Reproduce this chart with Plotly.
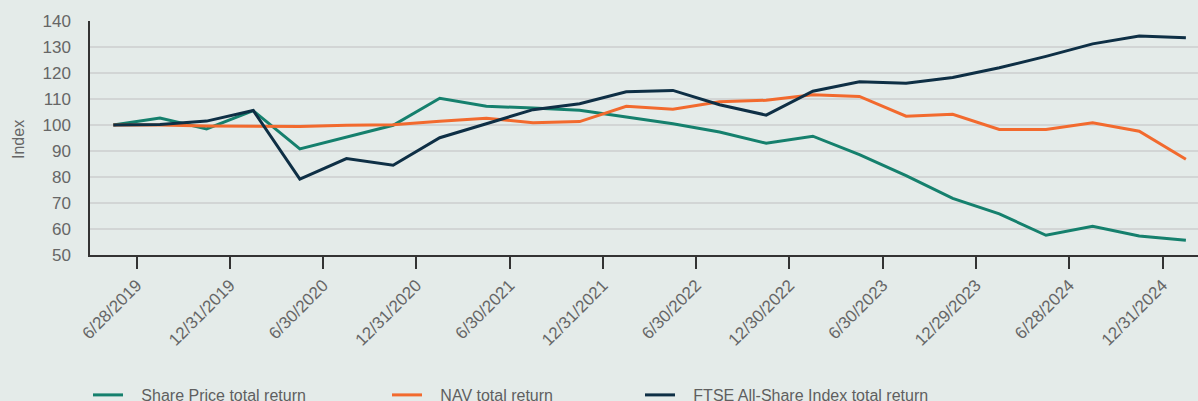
import plotly.graph_objects as go

quarters = ["3/29/2019", "6/28/2019", "9/30/2019", "12/31/2019", "3/31/2020", "6/30/2020",
            "9/30/2020", "12/31/2020", "3/31/2021", "6/30/2021", "9/30/2021", "12/31/2021",
            "3/31/2022", "6/30/2022", "9/30/2022", "12/30/2022", "3/31/2023", "6/30/2023",
            "9/29/2023", "12/29/2023", "3/28/2024", "6/28/2024", "9/30/2024", "12/31/2024"]

share_price = [100.0, 102.7, 98.5, 105.5, 90.8, 95.3, 99.9, 110.3, 107.2, 106.5, 105.7, 103.1,
               100.5, 97.3, 93.0, 95.7, 88.6, 80.5, 71.8, 65.8, 57.6, 61.0, 57.3, 55.7]
nav = [100.0, 100.0, 99.6, 99.5, 99.4, 99.9, 100.1, 101.4, 102.6, 100.9, 101.3, 107.2,
       106.1, 108.9, 109.5, 111.6, 111.0, 103.4, 104.1, 98.3, 98.3, 100.9, 97.6, 86.8]
ftse = [100.0, 100.2, 101.5, 105.6, 79.2, 87.1, 84.5, 95.1, 100.5, 105.9, 108.2, 112.8,
        113.3, 107.8, 103.8, 113.0, 116.6, 116.1, 118.3, 122.0, 126.4, 131.2, 134.2, 133.6]

tick_labels = ["6/28/2019", "12/31/2019", "6/30/2020", "12/31/2020", "6/30/2021", "12/31/2021",
               "6/30/2022", "12/30/2022", "6/30/2023", "12/29/2023", "6/28/2024", "12/31/2024"]

series_names = ["Share Price total return", "NAV total return", "FTSE All-Share Index total return"]
colors = ["#15806d", "#f26a2e", "#0e2f45"]

x = list(range(len(quarters)))
tickvals = [i + 0.5 for i in range(0, len(quarters), 2)]

BG = "#e4ebe9"
FONT = "Liberation Sans, Arial, sans-serif"

fig = go.Figure()
legend_ids = ["legend", "legend2", "legend3"]
for name, vals, col, lg in zip(series_names, [share_price, nav, ftse], colors, legend_ids):
    fig.add_trace(go.Scatter(
        x=x, y=vals, mode="lines", name="\u00a0\u00a0\u00a0" + name,
        line=dict(color=col, width=3), customdata=quarters,
        hovertemplate="%{customdata}: %{y}<extra></extra>",
        legend=lg,
    ))

W, H = 1198, 401
L, R, T, B = 90, 0, 21, 146
plot_w = W - L - R
plot_h = H - T - B

def px_to_paper_x(px):
    return (px - L) / plot_w

def px_to_paper_y(py):
    return (H - B - py) / plot_h

legend_common = dict(orientation="h", yanchor="middle", xanchor="left",
                     bgcolor="rgba(0,0,0,0)", borderwidth=0,
                     font=dict(family=FONT, size=16, color="#5f5f5f"))
ly = px_to_paper_y(395)
fig.update_layout(
    legend=dict(x=px_to_paper_x(88), y=ly, **legend_common),
    legend2=dict(x=px_to_paper_x(387), y=ly, **legend_common),
    legend3=dict(x=px_to_paper_x(640), y=ly, **legend_common),
)

fig.add_annotation(
    text="Index", xref="paper", yref="paper", x=px_to_paper_x(18), y=px_to_paper_y(140),
    xanchor="center", yanchor="middle", textangle=-90, showarrow=False,
    font=dict(family=FONT, size=16, color="#666666"),
)

fig.update_layout(
    width=W, height=H,
    margin=dict(l=L, r=R, t=T, b=B, autoexpand=False),
    paper_bgcolor=BG, plot_bgcolor=BG,
    showlegend=True,
    font=dict(family=FONT, size=16, color="#666666"),
    xaxis=dict(
        range=[-0.5, 23.26], tickmode="array", tickvals=tickvals, ticktext=tick_labels,
        tickangle=-45, ticks="outside", ticklen=12, tickwidth=1.5, tickcolor="#333333",
        showline=True, linecolor="#333333", linewidth=1.5, showgrid=False, zeroline=False,
        tickfont=dict(family=FONT, size=17, color="#666666"),
    ),
    yaxis=dict(
        range=[50, 140], tickmode="linear", tick0=50, dtick=10,
        showline=True, linecolor="#333333", linewidth=1.5,
        showgrid=True, gridcolor="#d2d5d5", gridwidth=1.5, zeroline=False,
        ticks="", ticklabelstandoff=14,
        tickfont=dict(family=FONT, size=17, color="#666666"),
    ),
)

fig.write_html("out.html", config={"displayModeBar": False},
               post_script="document.body.style.margin='0';document.body.style.overflow='hidden';")
